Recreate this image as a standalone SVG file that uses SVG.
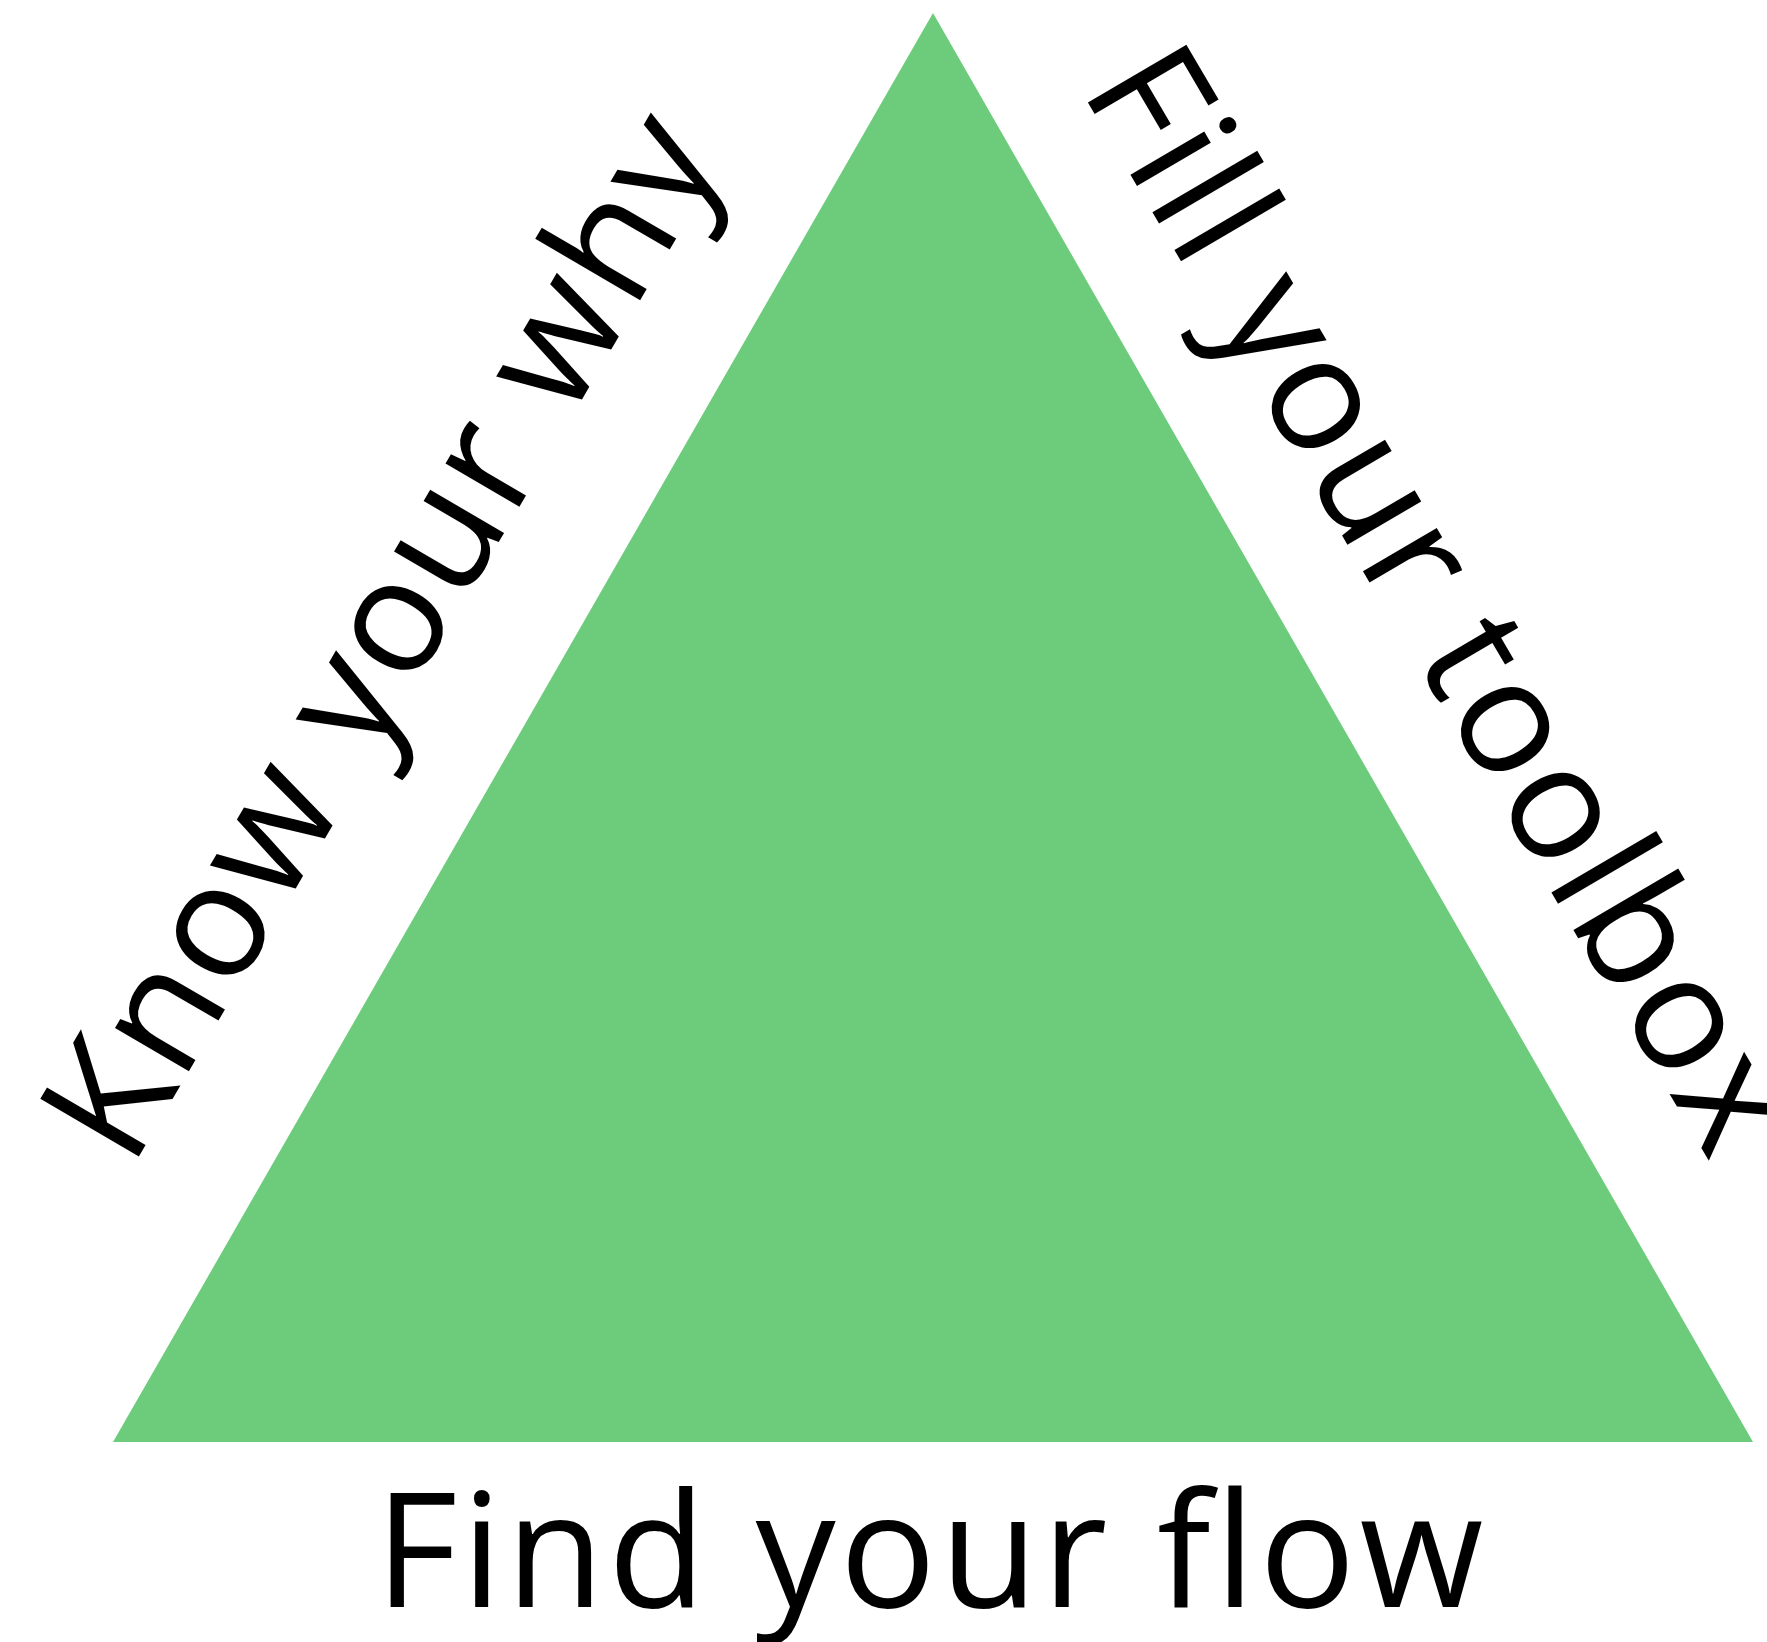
<svg xmlns="http://www.w3.org/2000/svg" width="1767" height="1642" viewBox="0 0 1767 1642">
<style>
.lbl{font-family:"Open Sans","Noto Sans",sans-serif;font-size:160px;fill:#000;letter-spacing:4px;}
</style>
<rect width="1767" height="1642" fill="#fff"/>
<g id="triangle">
<polygon points="933,13 113,1442 1753,1442" fill="#6dcc7c"/>
</g>
<g id="label-left">
<text class="lbl" x="131" y="1170" transform="rotate(-59.65 131 1170)" style="letter-spacing:2.8px">Know your why</text>
</g>
<g id="label-right">
<text class="lbl" x="1080" y="89" transform="rotate(59.6 1080 89)" style="letter-spacing:3.2px">Fill your toolbox</text>
</g>
<g id="label-bottom">
<text class="lbl" x="375" y="1607">Find your flow</text>
</g>
<g id="connectors"></g>
</svg>
